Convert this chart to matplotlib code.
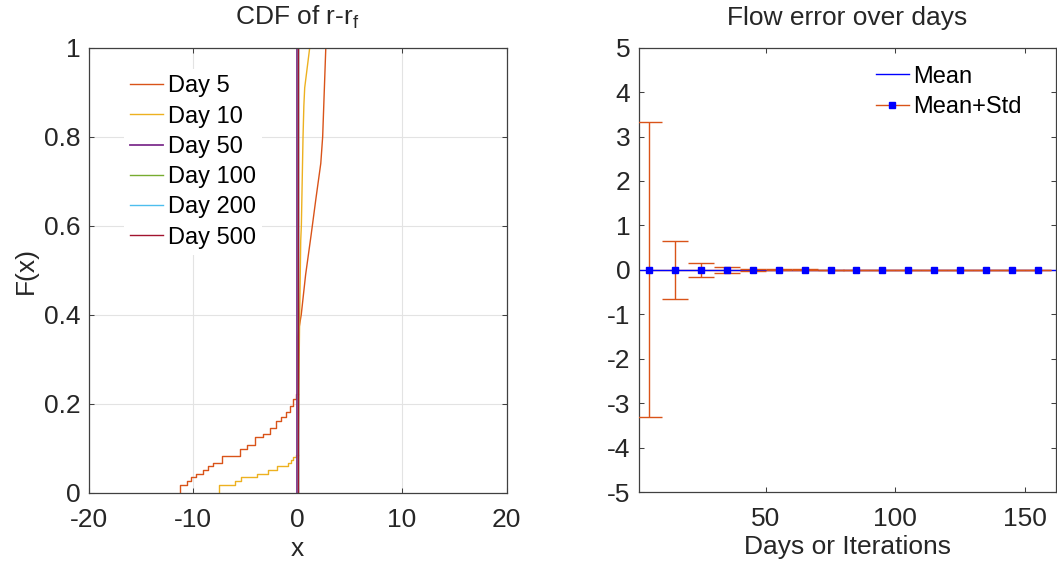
import matplotlib

matplotlib.use("Agg")
import matplotlib.pyplot as plt
from matplotlib.lines import Line2D
from matplotlib.ticker import FuncFormatter

plt.rcParams["font.family"] = ["Liberation Sans", "DejaVu Sans"]
plt.rcParams["mathtext.fontset"] = "custom"
plt.rcParams["mathtext.rm"] = "Liberation Sans"
plt.rcParams["mathtext.it"] = "Liberation Sans:italic"
plt.rcParams["axes.unicode_minus"] = False

# ---------------------------------------------------------------------------
# Data
# ---------------------------------------------------------------------------
day_labels = ["Day 5", "Day 10", "Day 50", "Day 100", "Day 200", "Day 500"]
day_colors = ["#D95319", "#EDB120", "#7E2F8E", "#77AC30", "#4DBEEE", "#A2142F"]

# Day 5: stair part (left of zero) and smooth tail
day5_step_x = [-11.3, -11.3, -10.6, -10.25, -9.75, -9.1, -8.6, -8.1, -7.2, -6.0,
               -5.5, -4.8, -4.1, -3.35, -2.6, -2.06, -1.6, -1.1, -0.77, -0.45,
               -0.19, 0.0]
day5_step_F = [0.0, 0.017, 0.025, 0.034, 0.042, 0.051, 0.06, 0.066, 0.081, 0.083,
               0.097, 0.106, 0.124, 0.131, 0.145, 0.16, 0.17, 0.18, 0.195, 0.21,
               0.222, 0.222]
day5_tail_x = [0.0, 0.0, 0.35, 0.77, 1.30, 1.75, 2.22, 2.40, 2.55, 2.70]
day5_tail_F = [0.222, 0.35, 0.40, 0.49, 0.58, 0.66, 0.74, 0.80, 0.90, 1.0]

# Day 10
day10_step_x = [-7.56, -7.56, -5.98, -5.45, -3.87, -2.88, -1.98, -0.89, -0.66,
                -0.43, -0.17, 0.05]
day10_step_F = [0.0, 0.017, 0.025, 0.034, 0.042, 0.051, 0.060, 0.067, 0.073,
                0.080, 0.085, 0.085]
day10_tail_x = [0.05, 0.10, 0.20, 0.30, 0.36, 0.52, 0.60, 0.68, 1.16]
day10_tail_F = [0.085, 0.20, 0.40, 0.567, 0.60, 0.80, 0.87, 0.91, 1.0]

# Later days: essentially a step at zero
day50_x, day50_F = [-0.05, -0.05], [0.0, 1.0]
day100_x, day100_F = [0.0, 0.0], [0.0, 1.0]
day200_x, day200_F = [0.0, 0.0], [0.0, 1.0]
day500_x, day500_F = [0.04, 0.04], [0.0, 1.0]

# Flow error over days
days = [5, 15, 25, 35, 45, 55, 65, 75, 85, 95, 105, 115, 125, 135, 145, 155]
flow_mean = [0, 0, 0, 0, 0, 0, 0, 0, 0, 0, 0, 0, 0, 0, 0, 0]
flow_std = [3.32, 0.65, 0.15, 0.065, 0.025, 0.012, 0.008, 0.006, 0.005, 0.004,
            0.004, 0.003, 0.003, 0.003, 0.002, 0.002]
mean_line_days = [1, 162]
mean_line_vals = [0, 0]

TXT = "#262626"
SPINE = "#404040"
ORANGE = "#D95319"
BLUE = "#0000FF"

W, H = 1057, 571
fig = plt.figure(figsize=(W / 100, H / 100), dpi=100)
ax1 = fig.add_axes([88.7 / W, (H - 492.5) / H, 417.8 / W, 444.8 / H])
ax2 = fig.add_axes([638.7 / W, (H - 492.0) / H, 417.3 / W, 444.3 / H])


def style_axes(ax):
    for s in ax.spines.values():
        s.set_color(SPINE)
        s.set_linewidth(0.9)
    ax.tick_params(direction="in", length=3.8, width=0.75, top=True, right=True,
                   labelsize=19, colors=SPINE, labelcolor=TXT)
    ax.tick_params(axis="x", pad=11)
    ax.tick_params(axis="y", pad=6)


# ---------------------------------------------------------------------------
# Left: CDF
# ---------------------------------------------------------------------------
style_axes(ax1)
ax1.grid(True, color="#E3E3E3", linewidth=0.8)
ax1.set_axisbelow(True)

lw = 1.0
h5, = ax1.plot(day5_step_x, day5_step_F, drawstyle="steps-post", color=day_colors[0], lw=lw)
ax1.plot(day5_tail_x, day5_tail_F, color=day_colors[0], lw=lw)
h10, = ax1.plot(day10_step_x, day10_step_F, drawstyle="steps-post", color=day_colors[1], lw=lw)
ax1.plot(day10_tail_x, day10_tail_F, color=day_colors[1], lw=lw)
h50, = ax1.plot(day50_x, day50_F, color=day_colors[2], lw=1.3)
h100, = ax1.plot(day100_x, day100_F, color=day_colors[3], lw=lw)
h200, = ax1.plot(day200_x, day200_F, color=day_colors[4], lw=lw)
h500, = ax1.plot(day500_x, day500_F, color=day_colors[5], lw=lw)

ax1.set_xlim(-20, 20)
ax1.set_ylim(0, 1)
ax1.set_xticks([-20, -10, 0, 10, 20])
ax1.set_yticks([0, 0.2, 0.4, 0.6, 0.8, 1.0])
ax1.yaxis.set_major_formatter(FuncFormatter(lambda v, _: f"{v:g}"))
ax1.set_xlabel("x", fontsize=19, color=TXT, labelpad=4)
ax1.set_ylabel("F(x)", fontsize=19, color=TXT, labelpad=4)
ax1.set_title("CDF of r-r$_\\mathrm{f}$", fontsize=19, color=TXT, y=1.051,
              va="baseline", pad=0)

ax1.legend([h5, h10, h50, h100, h200, h500], day_labels, loc="upper left",
           bbox_to_anchor=(0.0845, 0.951), fontsize=17, frameon=True,
           edgecolor="none", facecolor="white", framealpha=1, fancybox=False,
           handlelength=1.4, handletextpad=0.2, labelspacing=0.35,
           borderpad=0.25, borderaxespad=0, labelcolor="black")

# ---------------------------------------------------------------------------
# Right: flow error
# ---------------------------------------------------------------------------
style_axes(ax2)
ax2.errorbar(days, flow_mean, yerr=flow_std, fmt="none", ecolor=ORANGE,
             elinewidth=1.0, capsize=9.5, capthick=1.0, zorder=3)
ax2.plot(days, flow_mean, color=ORANGE, lw=1.0, zorder=2)
mean_h, = ax2.plot(mean_line_days, mean_line_vals, color=BLUE, lw=1.0, zorder=2.5)
ax2.plot(days, flow_mean, ls="none", marker="s", ms=5, color=BLUE, zorder=4)

ax2.set_xlim(1, 162)
ax2.set_ylim(-5, 5)
ax2.set_xticks([50, 100, 150])
ax2.set_yticks(range(-5, 6))
ax2.set_xlabel("Days or Iterations", fontsize=19, color=TXT, labelpad=3)
ax2.set_title("Flow error over days", fontsize=19, color=TXT, y=1.051,
              va="baseline", pad=0)

std_h = Line2D([], [], color=ORANGE, lw=1.0, marker="s", ms=5,
               mfc=BLUE, mec=BLUE)
ax2.legend([mean_h, std_h], ["Mean", "Mean+Std"], loc="upper left",
           bbox_to_anchor=(0.554, 0.973), fontsize=17, frameon=True,
           edgecolor="none", facecolor="white", framealpha=1, fancybox=False,
           handlelength=1.4, handletextpad=0.2, labelspacing=0.35,
           borderpad=0.25, borderaxespad=0, numpoints=1, labelcolor="black")

fig.savefig("out.png", dpi=100)
